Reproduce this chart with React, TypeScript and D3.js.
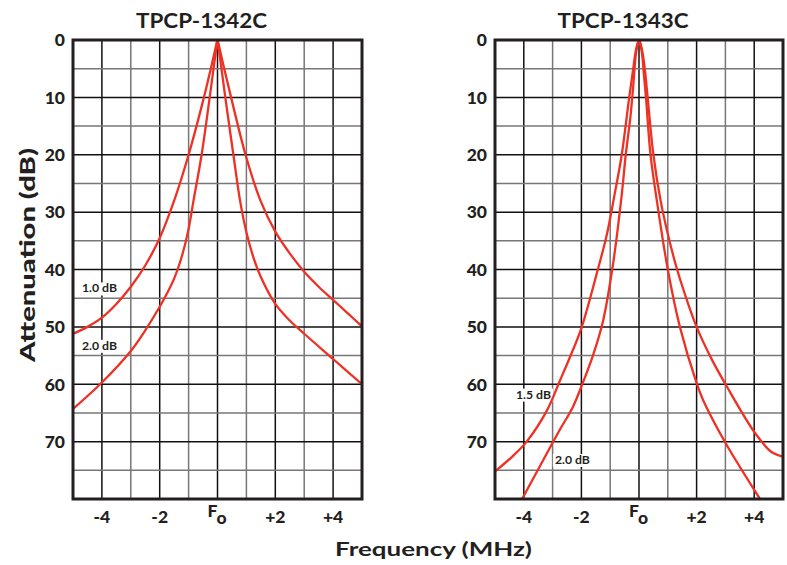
import * as d3 from "d3";

// attenuation curves, [offset from Fo in MHz, attenuation in dB]
const c1342_10dB: [number, number][] = [
  [-5, 51.2], [-4.5, 50], [-4, 48.4], [-3.5, 46], [-3, 43], [-2.5, 39.3], [-2, 34.5],
  [-1.5, 28], [-1, 20], [-0.47, 10], [-0.2, 4.3], [-0.05, 1], [0, 0], [0.05, 1],
  [0.2, 4.3], [0.47, 10], [0.97, 20], [1.48, 27.9], [2, 33.4], [2.5, 37.2], [3, 40.4],
  [3.5, 43], [4, 45.3], [4.5, 47.6], [5, 49.9],
];
const c1342_20dB: [number, number][] = [
  [-5, 64.3], [-4, 59.7], [-3, 54.2], [-2.5, 50.6], [-2, 46.5], [-1.75, 44.2], [-1.5, 41.6],
  [-1.25, 38], [-1.02, 33.4], [-0.83, 28], [-0.55, 20], [-0.27, 10], [-0.1, 3.6], [-0.03, 1],
  [0, 0], [0.03, 1], [0.1, 3.6], [0.27, 10], [0.55, 20], [0.78, 28], [1.0, 33.5],
  [1.25, 38], [1.5, 41.3], [2, 46], [2.5, 48.9], [3, 51.2], [4, 55.6], [5, 60],
];
const c1343_15dB: [number, number][] = [
  [-5, 75.2], [-4.4, 72.6], [-3.9, 70], [-3.2, 64.6], [-2.74, 59.3], [-2.4, 55.3], [-2, 50.2],
  [-1.43, 40], [-1.12, 34], [-0.85, 27], [-0.6, 20], [-0.34, 10], [-0.2, 5], [-0.1, 1.6],
  [0, 0], [0.1, 1.6], [0.2, 5], [0.3, 10], [0.5, 20], [0.75, 28], [1.0, 33.8],
  [1.3, 39.6], [1.6, 44.4], [2, 50], [2.5, 55.4], [3.05, 60.4], [4.03, 68.5], [4.6, 71.8], [5, 72.6],
];
const c1343_20dB: [number, number][] = [
  [-4.3, 82.2], [-4.06, 80], [-3, 70.2], [-2.7, 67.5], [-2.3, 64], [-1.94, 59.6], [-1.6, 55],
  [-1.25, 49], [-0.9, 39], [-0.6, 27], [-0.46, 20], [-0.3, 13.5], [-0.2, 8], [-0.1, 2.2],
  [0, 0], [0.1, 2.2], [0.17, 6], [0.25, 10.5], [0.4, 20], [0.62, 28], [1.0, 40],
  [1.42, 50], [2.0, 59.8], [2.22, 62.7], [3, 70.2], [4.2, 80], [4.4, 81.6],
];

const xTicks = [-4, -2, 0, 2, 4];
const xTickLabels = ["-4", "-2", "Fo", "+2", "+4"];
const yTicks = [0, 10, 20, 30, 40, 50, 60, 70];
const gridX = d3.range(-5, 6, 1);
const gridY = d3.range(0, 85, 5);

const ink = "#231f20";
const red = "#ee3124";
const font = "Lato, 'Open Sans', sans-serif";

type Curve = { data: [number, number][]; label: string; lx: number; ly: number };

const Panel = ({ left, right, title, curves }: { left: number; right: number; title: string; curves: Curve[] }) => {
  const top = 40, bottom = 499;
  const x = d3.scaleLinear().domain([-5, 5]).range([left, right]);
  const y = d3.scaleLinear().domain([0, 80]).range([top, bottom]);
  const line = d3.line<[number, number]>()
    .x((d) => x(d[0]))
    .y((d) => y(d[1]))
    .curve(d3.curveCatmullRom.alpha(0.5));
  const clipId = "clip" + title;
  return (
    <g>
      <clipPath id={clipId}>
        <rect x={left} y={top} width={right - left} height={bottom - top} />
      </clipPath>
      {gridX.map((g) => (
        <line key={"gx" + g} x1={x(g)} x2={x(g)} y1={top} y2={bottom}
          stroke={g % 2 === 0 ? "#111" : "#777"} strokeWidth={1.5} />
      ))}
      {gridY.map((g) => (
        <line key={"gy" + g} x1={left} x2={right} y1={y(g)} y2={y(g)}
          stroke={g % 10 === 0 ? "#111" : "#777"} strokeWidth={1.5} />
      ))}
      {curves.map((c) => (
        <g key={c.label}>
          <rect x={x(c.lx) - 2} y={y(c.ly) - 10} width={39} height={13} fill="#fff" />
          <text x={x(c.lx)} y={y(c.ly)} fontSize={11} fontWeight={700} fill={ink} fontFamily={font}
            textLength={35} lengthAdjust="spacingAndGlyphs">
            {c.label}
          </text>
        </g>
      ))}
      <g clipPath={`url(#${clipId})`}>
        {curves.map((c) => (
          <path key={"p" + c.label} d={line(c.data)} fill="none" stroke={red} strokeWidth={2.3} />
        ))}
      </g>
      <rect x={left} y={top} width={right - left} height={bottom - top} fill="none" stroke={ink} strokeWidth={3} />
      {yTicks.map((t) => (
        <text key={"yt" + t} x={left - 8} y={y(t)} dy="0.36em" textAnchor="end"
          fontSize={17.5} fontWeight={900} fill={ink} fontFamily={font}>{t}</text>
      ))}
      {xTicks.map((t, i) =>
        t === 0 ? (
          <text key={"xt" + t} x={x(t) - 0.5} y={517} textAnchor="middle" fontSize={17.5} fontWeight={900} fill={ink} fontFamily={font}>
            F<tspan dy={7}>o</tspan>
          </text>
        ) : (
          <text key={"xt" + t} x={x(t)} y={523} textAnchor="middle" fontSize={17.5} fontWeight={900} fill={ink} fontFamily={font}>
            {xTickLabels[i]}
          </text>
        )
      )}
      <text x={(left + right) / 2 - 16} y={28} textAnchor="middle" fontSize={21} fontWeight={700} fill={ink} fontFamily={font}
        textLength={131} lengthAdjust="spacingAndGlyphs">
        {title}
      </text>
    </g>
  );
};

export default function App() {
  return (
    <svg width={787} height={565} style={{ position: "absolute", left: 0, top: 0, background: "#fff" }}>
      <Panel left={73} right={362} title="TPCP-1342C" curves={[
        { data: c1342_10dB, label: "1.0 dB", lx: -4.69, ly: 44 },
        { data: c1342_20dB, label: "2.0 dB", lx: -4.69, ly: 54 },
      ]} />
      <Panel left={495} right={783} title="TPCP-1343C" curves={[
        { data: c1343_15dB, label: "1.5 dB", lx: -4.27, ly: 62.5 },
        { data: c1343_20dB, label: "2.0 dB", lx: -2.92, ly: 73.9 },
      ]} />
      <text transform="translate(35,255) rotate(-90)" textAnchor="middle" fontSize={21} fontWeight={900} fill={ink} fontFamily={font}
        textLength={214} lengthAdjust="spacingAndGlyphs">
        Attenuation (dB)
      </text>
      <text x={433.5} y={556} textAnchor="middle" fontSize={19.5} fontWeight={700} fill={ink} fontFamily={font}
        textLength={197} lengthAdjust="spacingAndGlyphs">
        Frequency (MHz)
      </text>
    </svg>
  );
}
